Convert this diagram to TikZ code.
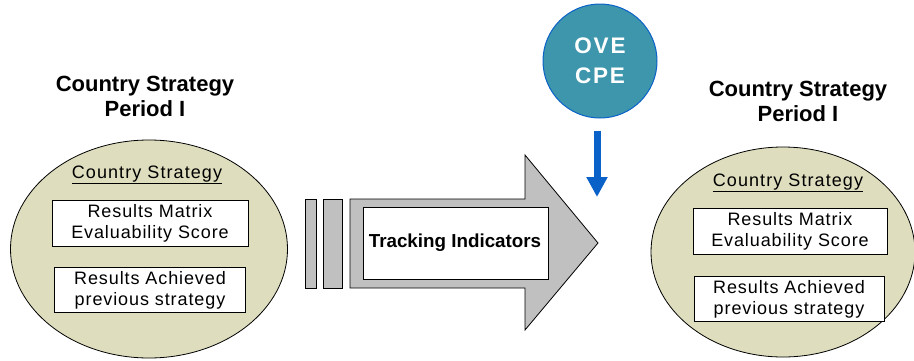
\documentclass[tikz,border=0pt]{standalone}
\usepackage{fontspec}
\setmainfont{Liberation Sans}
\usetikzlibrary{shapes.geometric,arrows.meta}
\definecolor{beige}{HTML}{DEDDBE}
\definecolor{arrowgray}{HTML}{C0C0C0}
\definecolor{teal}{HTML}{3E96AD}
\definecolor{oveblue}{HTML}{0A62C8}
\tikzset{
  title/.style={align=center,font=\fontsize{22}{25}\selectfont\bfseries},
  oval/.style={ellipse,draw=black,line width=0.8pt,fill=beige,inner sep=0pt},
  head/.style={font=\fontsize{18}{21}\selectfont\addfontfeatures{LetterSpace=6}},
  resbox/.style={draw=black,line width=0.8pt,fill=white,align=center,inner sep=0pt,
    font=\fontsize{18}{21}\selectfont\addfontfeatures{LetterSpace=5}},
  graybar/.style={draw=black,line width=0.8pt,fill=arrowgray},
}
\begin{document}
\begin{tikzpicture}[x=1pt,y=-1pt]
\useasboundingbox (0,0) rectangle (914,360);

% left group
\node[title] (ltitle) at (145,96) {Country Strategy\\Period I};
\node[oval,minimum width=277pt,minimum height=218pt] (lell) at (149,249) {};
\node[head] (lhead) at (147,175) {\underline{Country Strategy}};
\node[resbox,minimum width=196pt,minimum height=46pt] (lbox1) at (150,223) {Results Matrix\\Evaluability Score};
\node[resbox,minimum width=191pt,minimum height=45pt] (lbox2) at (150,290) {Results Achieved\\previous strategy};

% right group
\node[title] (rtitle) at (798,101) {Country Strategy\\Period I};
\node[oval,minimum width=264pt,minimum height=210pt] (rell) at (783,252) {};
\node[head] (rhead) at (788,183) {\underline{Country Strategy}};
\node[resbox,minimum width=194pt,minimum height=46pt] (rbox1) at (790,231) {Results Matrix\\Evaluability Score};
\node[resbox,minimum width=190pt,minimum height=45pt] (rbox2) at (789,299) {Results Achieved\\previous strategy};

% big arrow
\draw[graybar] (305,199) rectangle (316,288);
\draw[graybar] (323,199) rectangle (342,288);
\draw[graybar] (350,199) -- (525,199) -- (525,155) -- (598,243) -- (525,330) -- (525,288) -- (350,288) -- cycle;
\node[draw=black,line width=0.6pt,fill=white,minimum width=185pt,minimum height=72pt,inner sep=0pt] (track) at (455.5,243) {};
\node[font=\fontsize{18.8}{21}\selectfont\bfseries] (tracktxt) at (455,243) {Tracking Indicators};

% OVE CPE circle
\node[circle,draw=oveblue,line width=1pt,fill=teal,minimum size=114pt,inner sep=0pt,
  align=center,text=white,font=\fontsize{22.5}{30}\selectfont\bfseries\addfontfeatures{LetterSpace=8}] (ove) at (600,61) {OVE\\CPE};
\coordinate (otip) at (597,197);
\draw[oveblue,line width=7pt,-{Triangle[width=20pt,length=20pt]}] ([yshift=-12pt]ove.south -| otip) -- (otip);
\end{tikzpicture}
\end{document}
